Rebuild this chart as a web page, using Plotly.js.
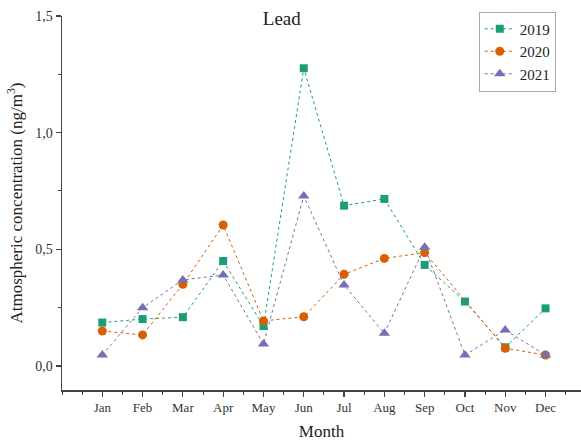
<!DOCTYPE html>
<html>
<head>
<meta charset="utf-8">
<script src="https://cdn.plot.ly/plotly-3.0.1.min.js"></script>
<style>html,body{margin:0;padding:0;background:#fff;}#chart{width:581px;height:441px;}</style>
</head>
<body>
<div id="chart"></div>
<script>
// Monthly lead concentrations (ng/m3) for three years
const months = ["Jan", "Feb", "Mar", "Apr", "May", "Jun", "Jul", "Aug", "Sep", "Oct", "Nov", "Dec"];
const lead2019 = [0.186, 0.201, 0.209, 0.450, 0.171, 1.276, 0.687, 0.716, 0.433, 0.276, 0.080, 0.247];
const lead2020 = [0.150, 0.133, 0.350, 0.604, 0.193, 0.211, 0.393, 0.461, 0.486, null, 0.076, 0.047];
const lead2021 = [0.047, 0.250, 0.369, 0.390, 0.094, 0.729, 0.347, 0.140, 0.509, 0.047, 0.154, 0.047];
const yTicks = [0, 0.5, 1.0, 1.5];

const monthIndex = months.map((m, i) => i + 1);
const serif = "Liberation Serif";

function series(name, values, color, symbol, size) {
  return {
    x: monthIndex,
    y: values,
    name: name,
    type: "scatter",
    mode: "lines+markers",
    connectgaps: true,
    line: {color: color, width: 1, dash: "3px,3px"},
    marker: {color: color, symbol: symbol, size: size, line: {width: 0}}
  };
}

const data = [
  series("2019", lead2019, "#1b9e77", "square", 8),
  series("2020", lead2020, "#d95f02", "circle", 9),
  series("2021", lead2021, "#7570b3", "triangle-up", 10)
];

const layout = {
  width: 581,
  height: 441,
  margin: {l: 62, r: 0, t: 16, b: 51},
  paper_bgcolor: "#fff",
  plot_bgcolor: "#fff",
  separators: ",.",
  showlegend: true,
  font: {family: serif, color: "#222"},
  title: {
    text: "Lead",
    font: {family: serif, size: 19, color: "#222"},
    x: 0.485, xanchor: "center",
    y: 0.958, yanchor: "middle"
  },
  xaxis: {
    range: [0, 12.88],
    tickvals: monthIndex,
    ticktext: months,
    ticks: "outside",
    ticklen: 5,
    tickwidth: 1.2,
    tickcolor: "#444",
    minor: {dtick: 0.5, tick0: 0.5, ticks: "outside", ticklen: 3, tickwidth: 1, tickcolor: "#444", showgrid: false},
    showline: true,
    linecolor: "#444",
    linewidth: 1.5,
    showgrid: false,
    zeroline: false,
    tickfont: {family: serif, size: 13, color: "#333"},
    title: {text: "Month", font: {family: serif, size: 17, color: "#222"}, standoff: 11}
  },
  yaxis: {
    range: [-0.103, 1.5],
    tickvals: yTicks,
    tickformat: ".1f",
    ticks: "outside",
    ticklen: 5,
    tickwidth: 1.2,
    tickcolor: "#444",
    minor: {dtick: 0.25, tick0: 0, ticks: "outside", ticklen: 3, tickwidth: 1, tickcolor: "#444", showgrid: false},
    showline: true,
    linecolor: "#444",
    linewidth: 1.5,
    showgrid: false,
    zeroline: false,
    tickfont: {family: serif, size: 14, color: "#333"},
    title: {text: "Atmospheric concentration (ng/m<sup>3</sup>)", font: {family: serif, size: 17, color: "#222"}, standoff: 8}
  },
  legend: {
    x: 0.803, xanchor: "left",
    y: 1.012, yanchor: "top",
    bgcolor: "#fff",
    bordercolor: "#aaa",
    borderwidth: 1,
    font: {family: serif, size: 15, color: "#222"},
    tracegroupgap: 0,
    itemwidth: 30
  }
};

Plotly.newPlot("chart", data, layout, {displayModeBar: false, staticPlot: true});
</script>
</body>
</html>
